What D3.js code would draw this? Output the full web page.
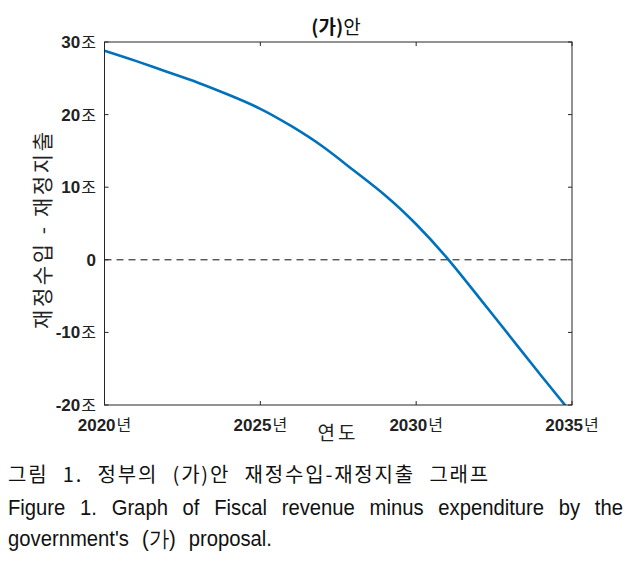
<!DOCTYPE html>
<html><head><meta charset="utf-8">
<script src="https://cdn.jsdelivr.net/npm/d3@7"></script>
<style>body{margin:0;background:#fff}</style>
</head><body>
<svg id="c" width="631" height="568"></svg>
<script>
const years = [2020,2021,2022,2023,2024,2025,2026,2027,2028,2029,2030,2031,2032,2033,2034,2035];
const balance = [28.8,27.4,25.9,24.4,22.7,20.8,18.4,15.6,12.3,8.9,4.9,0.2,-5.1,-10.5,-15.9,-21.2];
const xTicks = [2020,2025,2030,2035];
const yTicks = [30,20,10,0,-10,-20];
const title = "(가)안";
const xLabel = "연도";
const yLabel = "재정수입 - 재정지출";
const caption1 = "그림 1. 정부의 (가)안 재정수입-재정지출 그래프";
const caption2 = "Figure 1. Graph of Fiscal revenue minus expenditure by the";
const caption3 = "government's (가) proposal.";

const svg = d3.select("#c");
const L=104.5, R=572, T=42, B=405;
const x = d3.scaleLinear().domain([2020,2035]).range([L,R]);
const y = d3.scaleLinear().domain([-20,30]).range([B,T]);
const numFont = "'Liberation Sans', Arial, sans-serif";
const krFont = "'Noto Sans CJK KR', sans-serif";

svg.append("defs").append("clipPath").attr("id","clip")
  .append("rect").attr("x",L).attr("y",T).attr("width",R-L).attr("height",B-T);

// zero dashed line
svg.append("line").attr("x1",L).attr("x2",R).attr("y1",y(0)).attr("y2",y(0))
  .attr("stroke","#111").attr("stroke-width",1).attr("stroke-dasharray","7,5");

// curve
svg.append("path").datum(years.map((d,i)=>[d,balance[i]]))
  .attr("clip-path","url(#clip)")
  .attr("fill","none").attr("stroke","#0072BD").attr("stroke-width",2.6)
  .attr("d", d3.line().x(d=>x(d[0])).y(d=>y(d[1])).curve(d3.curveNatural));

// axes (inward ticks, box)
const ax = svg.append("g").attr("stroke","#262626").attr("stroke-width",1).attr("fill","none");
ax.append("rect").attr("x",L).attr("y",T).attr("width",R-L).attr("height",B-T);
const tl = 4;
xTicks.forEach(t=>{
  ax.append("line").attr("x1",x(t)).attr("x2",x(t)).attr("y1",B).attr("y2",B-tl);
  ax.append("line").attr("x1",x(t)).attr("x2",x(t)).attr("y1",T).attr("y2",T+tl);
});
yTicks.forEach(t=>{
  ax.append("line").attr("x1",L).attr("x2",L+tl).attr("y1",y(t)).attr("y2",y(t));
  ax.append("line").attr("x1",R).attr("x2",R-tl).attr("y1",y(t)).attr("y2",y(t));
});

// y tick labels
yTicks.forEach(t=>{
  const tx = svg.append("text").attr("x",96).attr("y",y(t)+6).attr("text-anchor","end")
    .attr("fill","#222");
  tx.append("tspan").attr("font-family",numFont).attr("font-weight","bold").attr("font-size",17).text(t);
  if(t!==0) tx.append("tspan").attr("font-family",krFont).attr("font-size",16).attr("dx",1).text("조");
});
// x tick labels
xTicks.forEach(t=>{
  const tx = svg.append("text").attr("x",x(t)).attr("y",431).attr("text-anchor","middle").attr("fill","#222");
  tx.append("tspan").attr("font-family",numFont).attr("font-weight","bold").attr("font-size",17).text(t);
  tx.append("tspan").attr("font-family",krFont).attr("font-size",16).attr("dx",1).text("년");
});

// title
const tt = svg.append("text").attr("x",336).attr("y",34).attr("text-anchor","middle").attr("fill","#111")
  .attr("font-family",krFont).attr("font-size",19);
tt.append("tspan").attr("font-weight","bold").text("(가)");
tt.append("tspan").text("안");

// x label
svg.append("text").attr("x",338).attr("y",440).attr("text-anchor","middle")
  .attr("font-family",krFont).attr("font-size",19).attr("letter-spacing",3).attr("fill","#222").text(xLabel);

// y label
svg.append("text").attr("transform","translate(50,229) rotate(-90)").attr("text-anchor","middle")
  .attr("font-family",krFont).attr("font-size",21).attr("letter-spacing",3).attr("fill","#222")
  .attr("textLength",200).attr("lengthAdjust","spacing").text(yLabel);

// captions: words placed individually (justified)
function wordsLine(str, x0, yb, font, size, scale, target, ls){
  const words = str.split(" ");
  const g = svg.append("g");
  const mk = (w)=> g.append("text").attr("font-family",font).attr("font-size",size)
      .attr("letter-spacing", ls||0).text(w);
  const widths = words.map(w=>{
    const t = mk(w);
    const wd = t.node().getComputedTextLength()*scale; t.remove(); return wd;
  });
  const sum = d3.sum(widths);
  const gap = (target - sum)/(words.length-1);
  let cx = x0;
  words.forEach((w,i)=>{
    const t = mk(w).attr("x",cx).attr("y",yb).attr("fill","#111");
    if(scale!==1) t.attr("textLength",widths[i]).attr("lengthAdjust","spacingAndGlyphs");
    cx += widths[i] + gap;
  });
}
wordsLine(caption1, 8, 482, krFont, 20, 1, 482, 1.8);
wordsLine(caption2, 8, 515, numFont, 22, 0.92, 615, 0);
wordsLine(caption3, 8, 546, numFont, 22, 0.92, 264, 0);
</script>
</body></html>
